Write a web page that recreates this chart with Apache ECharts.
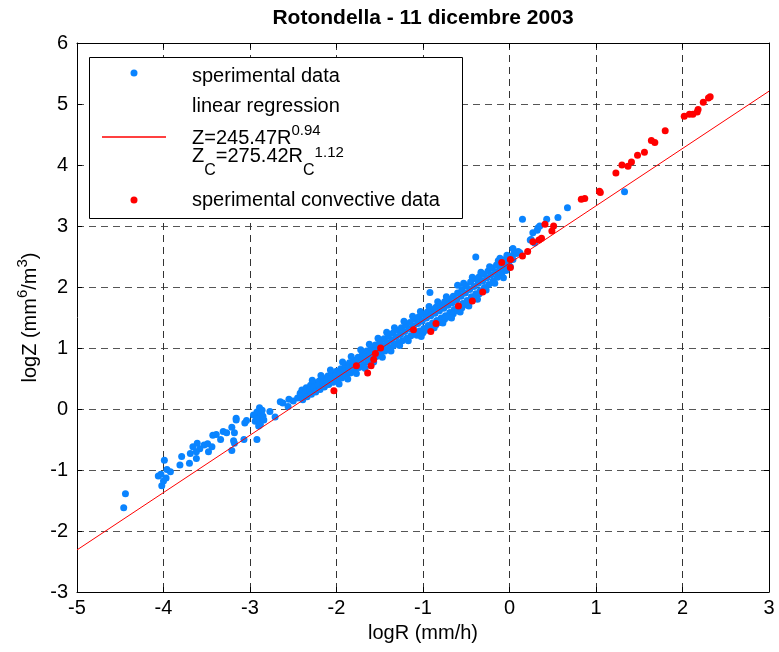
<!DOCTYPE html>
<html>
<head>
<meta charset="utf-8">
<script src="https://cdn.jsdelivr.net/npm/echarts@6/dist/echarts.min.js"></script>
<style>
html,body{margin:0;padding:0;background:#fff;}
#chart{width:779px;height:652px;}
</style>
</head>
<body>
<div id="chart"></div>
<script>
var titleText = 'Rotondella - 11 dicembre 2003';
var xName = 'logR (mm/h)';
var xTicks = {min: -5, max: 3, interval: 1};
var yTicks = {min: -3, max: 6, interval: 1};
var legendNames = ['sperimental data', 'linear regression', 'sperimental convective data'];

// regression line endpoints
var regressionLine = [[-5, -2.31], [3, 5.21]];

// sperimental data (blue)
var blueData = [
[-4.46,-1.62],[-4.44,-1.39],[-4.02,-1.26],[-4.00,-1.18],[-4.06,-1.10],[-4.03,-1.07],[-3.96,-0.99],[-3.92,-1.03],[-3.99,-0.84],[-3.97,-1.13],
[-3.81,-0.92],[-3.79,-0.78],[-3.70,-0.89],[-3.69,-0.73],[-3.66,-0.62],[-3.62,-0.70],[-3.61,-0.56],[-3.62,-0.81],[-3.58,-0.65],[-3.53,-0.59],
[-3.49,-0.57],[-3.48,-0.70],[-3.44,-0.62],[-3.43,-0.43],[-3.39,-0.42],[-3.34,-0.50],[-3.31,-0.37],[-3.27,-0.39],[-3.21,-0.30],[-3.18,-0.39],
[-3.21,-0.68],[-3.18,-0.56],[-3.19,-0.52],[-3.16,-0.15],[-3.16,-0.18],[-3.07,-0.50],[-3.06,-0.23],[-3.04,-0.19],[-2.96,-0.10],[-2.94,-0.20],
[-2.92,-0.05],[-2.92,-0.50],[-2.92,-0.15],[-2.90,-0.28],[-2.90,-0.15],[-2.89,0.02],[-2.88,-0.25],[-2.87,-0.08],[-2.86,-0.02],[-2.85,-0.12],
[-2.84,-0.18],[-2.77,-0.04],[-2.71,-0.13],[-2.65,0.12],[-2.62,0.10],[-2.56,0.04],[-2.55,0.16],[-2.50,0.13],[-2.45,0.18],[-2.42,0.26],
[-2.40,0.31],[-2.41,0.22],[-2.39,0.15],[-2.35,0.35],[-2.36,0.27],[-2.34,0.20],[-2.30,0.39],[-2.31,0.31],[-2.29,0.24],
[-2.25,0.43],[-2.26,0.35],[-2.24,0.28],[-2.20,0.46],[-2.21,0.39],[-2.19,0.32],[-2.15,0.50],[-2.16,0.43],[-2.14,0.36],
[-2.10,0.54],[-2.11,0.47],[-2.09,0.40],[-2.05,0.58],[-2.06,0.50],[-2.04,0.44],[-2.00,0.62],[-2.01,0.54],[-1.99,0.47],
[-1.95,0.66],[-1.96,0.58],[-1.94,0.51],[-1.90,0.71],[-1.91,0.62],[-1.89,0.55],[-1.85,0.76],[-1.86,0.67],[-1.84,0.59],
[-1.80,0.80],[-1.81,0.71],[-1.79,0.63],[-1.75,0.85],[-1.76,0.76],[-1.74,0.68],[-1.70,0.90],[-1.71,0.81],[-1.69,0.72],
[-1.65,0.95],[-1.66,0.85],[-1.64,0.77],[-1.60,1.00],[-1.61,0.90],[-1.59,0.81],[-1.55,1.05],[-1.56,0.95],[-1.54,0.86],
[-1.50,1.10],[-1.51,1.00],[-1.49,0.91],[-1.45,1.15],[-1.46,1.04],[-1.44,0.95],[-1.40,1.20],[-1.41,1.09],[-1.39,1.00],
[-1.35,1.24],[-1.36,1.13],[-1.34,1.04],[-1.30,1.29],[-1.31,1.18],[-1.29,1.08],[-1.25,1.33],[-1.26,1.22],[-1.24,1.12],
[-1.20,1.38],[-1.21,1.27],[-1.19,1.16],[-1.15,1.42],[-1.16,1.31],[-1.14,1.20],[-1.10,1.47],[-1.11,1.36],[-1.09,1.24],
[-1.05,1.51],[-1.06,1.40],[-1.04,1.28],[-1.00,1.55],[-1.01,1.44],[-0.99,1.32],[-1.00,1.25],
[-0.95,1.59],[-0.96,1.49],[-0.94,1.37],[-0.95,1.30],[-0.90,1.63],[-0.91,1.53],[-0.89,1.41],[-0.90,1.34],
[-0.85,1.67],[-0.86,1.57],[-0.84,1.45],[-0.85,1.38],[-0.80,1.71],[-0.81,1.61],[-0.79,1.49],[-0.80,1.42],
[-0.75,1.76],[-0.76,1.65],[-0.74,1.53],[-0.75,1.47],[-0.70,1.80],[-0.71,1.70],[-0.69,1.58],[-0.70,1.51],
[-0.65,1.85],[-0.66,1.74],[-0.64,1.63],[-0.65,1.56],[-0.60,1.90],[-0.61,1.79],[-0.59,1.68],[-0.60,1.61],
[-0.55,1.96],[-0.56,1.85],[-0.54,1.73],[-0.55,1.66],[-0.50,2.02],[-0.51,1.90],[-0.49,1.78],[-0.50,1.71],
[-0.45,2.08],[-0.46,1.96],[-0.44,1.84],[-0.45,1.77],[-0.40,2.13],[-0.41,2.01],[-0.39,1.89],[-0.40,1.83],
[-0.35,2.17],[-0.36,2.06],[-0.34,1.94],[-0.35,1.89],[-0.30,2.21],[-0.31,2.10],[-0.29,1.99],
[-0.25,2.26],[-0.26,2.15],[-0.24,2.04],[-0.20,2.31],[-0.21,2.20],[-0.19,2.10],[-0.15,2.36],[-0.16,2.25],[-0.14,2.16],
[-0.10,2.41],[-0.11,2.30],[-0.09,2.22],[-0.05,2.45],[-0.06,2.35],[-0.04,2.27],[0.00,2.50],[-0.01,2.40],[0.01,2.33],
[0.05,2.55],[0.04,2.45],[0.10,2.58],
[-2.28,0.47],[-2.18,0.55],[-2.07,0.64],[-1.93,0.77],[-1.83,0.86],[-1.72,0.97],[-1.62,1.06],[-1.52,1.16],[-1.42,1.26],
[-1.33,1.33],[-1.22,1.44],[-1.12,1.52],[-1.03,1.60],[-0.93,1.68],[-0.83,1.76],[-0.73,1.84],[-0.53,2.06],[-0.43,2.16],
[-0.33,2.24],[-0.23,2.33],[-0.13,2.43],[-0.03,2.52],
[-1.97,0.41],[-1.87,0.49],[-1.77,0.58],[-1.67,0.67],[-1.57,0.77],[-1.47,0.85],[-1.37,0.95],[-1.27,1.04],[-1.17,1.12],
[-1.07,1.21],[-0.97,1.29],[-0.87,1.33],[-0.77,1.41],[-0.67,1.49],[-0.57,1.59],[-0.47,1.69],[-0.37,1.80],[-0.27,1.95],
[-0.17,2.06],[-0.07,2.15],
[-0.92,1.91],[-1.02,1.19],[-0.60,2.03],[-0.39,2.49],[-0.11,2.47],
[0.04,2.63],[0.08,2.55],[0.12,2.56],[0.15,3.11],[0.25,2.78],[0.24,2.77],[0.27,2.89],[0.29,2.72],[0.32,2.93],[0.33,2.97],
[0.35,3.00],[0.43,3.11],[0.56,3.14],[0.67,3.30],[1.33,3.56]
];

// sperimental convective data (red)
var redData = [
[-2.03,0.30],[-1.77,0.71],[-1.64,0.59],[-1.60,0.71],[-1.57,0.81],[-1.55,0.91],[-1.49,1.00],[-1.11,1.30],[-0.91,1.27],[-0.85,1.40],
[-0.59,1.69],[-0.43,1.77],[-0.31,1.92],[-0.09,2.40],[0.01,2.45],[0.01,2.32],[0.15,2.51],[0.21,2.58],[0.27,2.74],[0.34,2.77],
[0.37,2.80],[0.41,3.03],[0.49,2.92],[0.51,3.00],[0.83,3.44],[0.87,3.45],[1.04,3.57],[1.05,3.55],[1.23,3.87],[1.30,4.00],
[1.37,3.98],[1.41,4.05],[1.48,4.16],[1.56,4.21],[1.64,4.40],[1.68,4.37],[1.80,4.56],[2.02,4.80],[2.08,4.83],[2.12,4.83],
[2.17,4.87],[2.18,4.91],[2.24,5.03],[2.30,5.10],[2.32,5.12]
];

var FONT = '"Liberation Sans", Arial, Helvetica, sans-serif';
var BLUE = '#0a84ff';
var RED = '#ff0000';

var chart = echarts.init(document.getElementById('chart'), null, {renderer: 'canvas'});
var axisCommon = {
  type: 'value',
  axisLine: {show: true, onZero: false, lineStyle: {color: '#000', width: 1}},
  axisTick: {show: true, inside: true, length: 5, lineStyle: {color: '#000'}},
  axisLabel: {color: '#000', fontFamily: FONT, fontSize: 20},
  splitLine: {show: false}
};
function ax(extra) { return Object.assign({}, JSON.parse(JSON.stringify(axisCommon)), extra); }

function legendText(y, text, rich) {
  return {
    type: 'text', x: 192, y: y, z: 101, silent: true,
    style: {text: text, fill: '#000', fontFamily: FONT, fontSize: 20, align: 'left', verticalAlign: 'middle', rich: rich || {}}
  };
}
var supRich = {
  b: {fontFamily: FONT, fontSize: 20, lineHeight: 18, fill: '#000'},
  p: {fontFamily: FONT, fontSize: 15, lineHeight: 18, fill: '#000', padding: [0, 0, 14, 0]}
};
var subRich = {
  b: {fontFamily: FONT, fontSize: 20, lineHeight: 18, fill: '#000'},
  s: {fontFamily: FONT, fontSize: 16, lineHeight: 18, fill: '#000', padding: [30, 0, 0, 0]},
  p: {fontFamily: FONT, fontSize: 15, lineHeight: 18, fill: '#000', padding: [0, 0, 6, 0]}
};

chart.setOption({
  animation: false,
  backgroundColor: '#fff',
  title: {
    text: titleText, left: 423, top: 8, padding: 0, textAlign: 'center',
    textStyle: {fontFamily: FONT, fontSize: 21, fontWeight: 'bold', color: '#000'}
  },
  grid: {left: 77, right: 10, top: 43, bottom: 60, containLabel: false, outerBoundsMode: 'none'},
  graphic: [
    {type: 'rect', z: 100, silent: true, shape: {x: 89.5, y: 57.5, width: 373, height: 161},
      style: {fill: '#fff', stroke: '#000', lineWidth: 1}},
    {type: 'circle', z: 101, silent: true, shape: {cx: 134, cy: 73, r: 3.5}, style: {fill: BLUE}},
    {type: 'polyline', z: 102, silent: true, shape: {points: [[102, 137], [166, 137]]},
      style: {stroke: RED, lineWidth: 1.5, fill: 'none'}},
    {type: 'circle', z: 101, silent: true, shape: {cx: 134, cy: 200, r: 3.5}, style: {fill: RED}},
    legendText(76, legendNames[0]),
    legendText(106, legendNames[1]),
    legendText(138, '{b|Z=245.47R}{p|0.94}', supRich),
    legendText(156, '{b|Z}{s|C}{b|=275.42R}{s|C}{p|1.12}', subRich),
    legendText(200, legendNames[2])
  ],
  xAxis: [
    ax({position: 'bottom', min: xTicks.min, max: xTicks.max, interval: xTicks.interval,
      name: xName, nameLocation: 'middle', nameGap: 29, nameMoveOverlap: false,
      nameTextStyle: {fontFamily: FONT, fontSize: 20, color: '#000', lineHeight: 24},
      axisLabel: {color: '#000', fontFamily: FONT, fontSize: 20, margin: 6},
      splitLine: {show: true, lineStyle: {color: '#333', width: 1, type: [7, 5]}}}),
    ax({position: 'top', min: xTicks.min, max: xTicks.max, interval: xTicks.interval,
      axisLabel: {show: false}})
  ],
  yAxis: [
    ax({position: 'left', min: yTicks.min, max: yTicks.max, interval: yTicks.interval,
      name: '{b|logZ (mm}{p|6}{b|/m}{p|3}{b|)}', nameLocation: 'middle', nameGap: 35, nameRotate: 90,
      nameMoveOverlap: false,
      nameTextStyle: {fontFamily: FONT, fontSize: 20, color: '#000',
        rich: {
          b: {fontFamily: FONT, fontSize: 20, lineHeight: 24, color: '#000'},
          p: {fontFamily: FONT, fontSize: 15, lineHeight: 24, color: '#000', padding: [0, 0, 14, 0]}
        }},
      axisLabel: {color: '#000', fontFamily: FONT, fontSize: 20, margin: 9},
      splitLine: {show: true, lineStyle: {color: '#555', width: 1, type: [7, 5]}}}),
    ax({position: 'right', min: yTicks.min, max: yTicks.max, interval: yTicks.interval,
      axisLabel: {show: false}})
  ],
  series: [
    {
      name: legendNames[0], type: 'scatter', data: blueData,
      symbol: 'circle', symbolSize: 7,
      itemStyle: {color: BLUE, opacity: 1},
      emphasis: {disabled: true}
    },
    {
      name: legendNames[1], type: 'line', data: regressionLine,
      symbol: 'none', showSymbol: false,
      lineStyle: {color: RED, width: 1},
      itemStyle: {color: RED},
      emphasis: {disabled: true}
    },
    {
      name: legendNames[2], type: 'scatter', data: redData,
      symbol: 'circle', symbolSize: 7,
      itemStyle: {color: RED, opacity: 1},
      emphasis: {disabled: true}
    }
  ]
});
</script>
</body>
</html>
